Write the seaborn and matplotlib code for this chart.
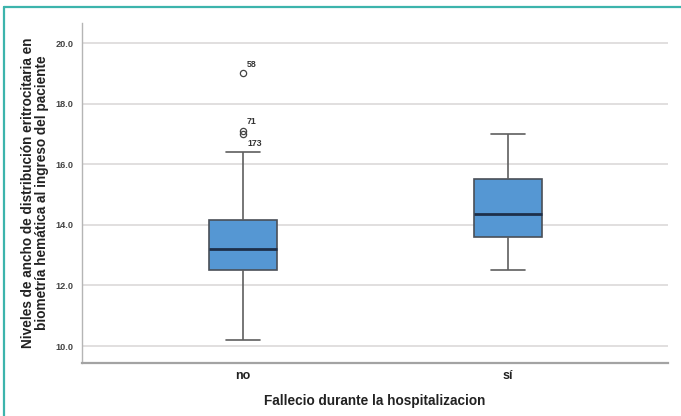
import matplotlib
matplotlib.use("Agg")
import matplotlib.pyplot as plt
from matplotlib.lines import Line2D
import numpy as np
import pandas as pd
import seaborn as sns

groups = ["no", "sí"]
rdw_no = [10.2, 11.4, 11.9, 12.3, 12.5, 12.7, 12.9, 13.0, 13.2,
          13.4, 13.7, 13.9, 14.15, 16.4, 17.0, 17.1, 19.0]
rdw_si = [12.5, 13.2, 13.6, 14.0, 14.35, 15.0, 15.5, 16.2, 17.0]
outlier_ids = ["58", "71", "173"]
outlier_vals = [19.0, 17.1, 17.0]
yticks = [10.0, 12.0, 14.0, 16.0, 18.0, 20.0]

df = pd.DataFrame({
    "grupo": ["no"] * len(rdw_no) + ["sí"] * len(rdw_si),
    "rdw": rdw_no + rdw_si,
})

sns.set_theme(style="white")
plt.rcParams["font.family"] = ["Liberation Sans", "DejaVu Sans"]

fig = plt.figure(figsize=(6.81, 4.16), dpi=100)
ax = fig.add_axes([0.1204, 0.1274, 0.8605, 0.8173])

box_blue = "#5597d3"
edge = "#4a4f57"
sns.boxplot(data=df, x="grupo", y="rdw", order=groups, ax=ax,
            color=box_blue, width=0.255, linewidth=1.2, linecolor=edge,
            saturation=1,
            boxprops=dict(facecolor=box_blue, edgecolor=edge),
            medianprops=dict(color="#1d2f4a", linewidth=2),
            whiskerprops=dict(color="#5f5f5f"),
            capprops=dict(color="#5f5f5f"),
            flierprops=dict(marker="o", markersize=4.5, markerfacecolor="none",
                            markeredgecolor="#444444", markeredgewidth=0.9))

# outlier case labels
offsets = [0.3, 0.3, -0.3]
for lab, v, off in zip(outlier_ids, outlier_vals, offsets):
    ax.text(0.015, v + off, lab, fontsize=6.3, fontweight="bold",
            color="#333333", va="center", ha="left")

ax.set_xlim(-0.608, 1.604)
ax.set_ylim(9.44, 20.66)
ax.set_yticks(yticks)
ax.set_yticklabels([f"{t:.1f}" for t in yticks], fontsize=6.6,
                   fontweight="bold", color="#444444")
ax.yaxis.grid(True, color="#d9d6d6", linewidth=1.1)
ax.set_axisbelow(True)
ax.tick_params(axis="y", length=0, pad=6)
ax.tick_params(axis="x", length=0, pad=5)
for t in ax.get_xticklabels():
    t.set_fontsize(9)
    t.set_fontweight("bold")
    t.set_color("#222222")

ax.set_xlabel("Fallecio durante la hospitalizacion", fontsize=9.8,
              fontweight="bold", color="#222222", labelpad=9)
ax.set_ylabel("Niveles de ancho de distribución eritrocitaria en\n"
              "biometría hemática al ingreso del paciente", fontsize=9.8,
              fontweight="bold", color="#222222", labelpad=5, linespacing=0.95)

for s in ["top", "right"]:
    ax.spines[s].set_visible(False)
ax.spines["left"].set_color("#b5b5b5")
ax.spines["left"].set_linewidth(1.0)
ax.spines["bottom"].set_color("#a3a3a3")
ax.spines["bottom"].set_linewidth(1.6)

# teal frame of the figure panel
teal = "#3cb4ac"
fig.add_artist(Line2D([0.0066, 1.0], [0.982, 0.982], color=teal, lw=1.6,
                      transform=fig.transFigure))
fig.add_artist(Line2D([0.0066, 0.0066], [0.0, 0.982], color=teal, lw=1.6,
                      transform=fig.transFigure))

fig.savefig("out.png", dpi=100)
